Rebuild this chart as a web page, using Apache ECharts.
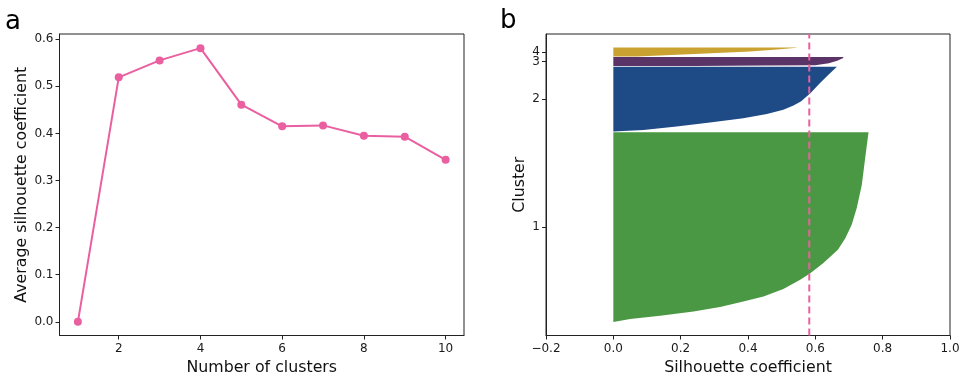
<!DOCTYPE html>
<html>
<head>
<meta charset="utf-8">
<script src="https://cdn.jsdelivr.net/npm/echarts@6/dist/echarts.min.js"></script>
<style>
html,body{margin:0;padding:0;background:#fff;}
#chart{width:962px;height:375px;}
</style>
</head>
<body>
<div id="chart"></div>
<script>
// ---- Panel a: average silhouette vs number of clusters ----
const clusterCounts = [1, 2, 3, 4, 5, 6, 7, 8, 9, 10];
const avgSilhouette = [0.0, 0.519, 0.555, 0.581, 0.461, 0.415, 0.417, 0.395, 0.393, 0.344];
const leftXTicks = [2, 4, 6, 8, 10];
const leftYTicks = [0.0, 0.1, 0.2, 0.3, 0.4, 0.5, 0.6];

// ---- Panel b: silhouette profile of the 4-cluster solution ----
const clusterLabels = ['1', '2', '3', '4'];
const clusterSizes = [190, 65, 9, 9];
// sorted silhouette profile per cluster: [fraction of cluster rows, silhouette value]
const profile1 = [[0, 0.0], [0.015, 0.05], [0.032, 0.139], [0.055, 0.238], [0.078, 0.317], [0.107, 0.386],
  [0.134, 0.446], [0.173, 0.505], [0.222, 0.555], [0.257, 0.585], [0.31, 0.624], [0.38, 0.667],
  [0.441, 0.689], [0.512, 0.708], [0.6, 0.723], [0.722, 0.738], [0.863, 0.748], [1.0, 0.758]];
const profile2 = [[0, 0.0], [0.026, 0.089], [0.077, 0.188], [0.139, 0.287], [0.207, 0.386], [0.269, 0.456],
  [0.335, 0.505], [0.4, 0.535], [0.464, 0.557], [0.594, 0.586], [0.748, 0.614], [0.876, 0.639], [1.0, 0.664]];
const profile3 = [[0, 0.24], [0.05, 0.45], [0.1, 0.6], [0.3, 0.64], [0.6, 0.665], [0.9, 0.683], [1.0, 0.683]];
const profile4 = [[0, 0.07], [0.31, 0.258], [0.54, 0.406], [0.77, 0.486], [0.97, 0.545], [1.0, 0.545]];
const meanSilhouette = 0.582;
const rightXTicks = [-0.2, 0.0, 0.2, 0.4, 0.6, 0.8, 1.0];

const profiles = [profile1, profile2, profile3, profile4];
const clusterColors = ['#4b9844', '#1e4a86', '#5a3466', '#c9a232'];
const pink = '#ea5fa0';

// layout of cluster rows on the vertical axis
const bottomPad = 13.6, gapRows = 0.6, topPad = 13.5;
const starts = [];
let cur = bottomPad;
clusterSizes.forEach((s, i) => { starts.push(cur); cur += s + (i < clusterSizes.length - 1 ? gapRows : 0); });
const rowsMax = cur + topPad;
const mids = clusterSizes.map((s, i) => starts[i] + s / 2);
// labels 3 and 4 sit very close; label 3 is drawn by a second, overlaid axis so neither is dropped
const midsMain = mids.filter((m, i) => i !== 2);
const midsExtra = [mids[2]];
const labelFor = v => { const i = mids.findIndex(m => Math.abs(m - v) < 1e-6); return i >= 0 ? clusterLabels[i] : ''; };

const font = 'DejaVu Sans';
const axisColor = '#222';
const tickLabel = { fontFamily: font, fontSize: 12, color: '#1a1a1a', hideOverlap: false };
const titleStyle = { fontFamily: font, fontSize: 15.8, color: '#111' };

const chart = echarts.init(document.getElementById('chart'), null, { renderer: 'canvas' });
chart.setOption({
  animation: false,
  backgroundColor: '#fff',
  graphic: [
    { type: 'text', left: 5, top: 9, style: { text: 'a', font: '26px "DejaVu Sans"', fill: '#000' } },
    { type: 'text', left: 500, top: 8, style: { text: 'b', font: '26px "DejaVu Sans"', fill: '#000' } }
  ],
  grid: [
    { left: 59.5, top: 34, width: 404.5, height: 301.5, outerBoundsMode: 'none', containLabel: false,
      show: true, borderColor: axisColor, borderWidth: 1, backgroundColor: 'transparent' },
    { left: 546, top: 34, width: 404, height: 301.5, outerBoundsMode: 'none', containLabel: false,
      show: true, borderColor: axisColor, borderWidth: 1, backgroundColor: 'transparent' }
  ],
  xAxis: [
    {
      gridIndex: 0, type: 'value', min: 0.55, max: 10.45,
      name: 'Number of clusters', nameLocation: 'middle', nameGap: 24,
      nameTextStyle: titleStyle,
      axisLine: { show: true, onZero: false, lineStyle: { color: axisColor } },
      axisTick: { show: true, length: 4, lineStyle: { color: axisColor }, customValues: leftXTicks },
      axisLabel: Object.assign({ margin: 7, customValues: leftXTicks, formatter: v => String(v) }, tickLabel),
      splitLine: { show: false }
    },
    {
      gridIndex: 1, type: 'value', min: -0.2, max: 1.0, interval: 0.2,
      name: 'Silhouette coefficient', nameLocation: 'middle', nameGap: 24,
      nameTextStyle: titleStyle,
      axisLine: { show: true, onZero: false, lineStyle: { color: axisColor } },
      axisTick: { show: true, length: 4, lineStyle: { color: axisColor }, customValues: rightXTicks },
      axisLabel: Object.assign({ margin: 7, customValues: rightXTicks,
        formatter: v => (v < 0 ? '\u2212' + Math.abs(v).toFixed(1) : v.toFixed(1)) }, tickLabel),
      splitLine: { show: false }
    }
  ],
  yAxis: [
    {
      gridIndex: 0, type: 'value', min: -0.029, max: 0.611,
      name: 'Average silhouette coefficient', nameLocation: 'middle', nameGap: 30,
      nameTextStyle: titleStyle,
      axisLine: { show: true, onZero: false, lineStyle: { color: axisColor } },
      axisTick: { show: true, length: 4, lineStyle: { color: axisColor }, customValues: leftYTicks },
      axisLabel: Object.assign({ margin: 6, customValues: leftYTicks, formatter: v => v.toFixed(1) }, tickLabel),
      splitLine: { show: false }
    },
    {
      gridIndex: 1, type: 'value', min: 0, max: rowsMax, position: 'left',
      name: 'Cluster', nameLocation: 'middle', nameGap: 18,
      nameTextStyle: titleStyle,
      axisLine: { show: true, onZero: false, lineStyle: { color: axisColor } },
      axisTick: { show: true, length: 4, lineStyle: { color: axisColor }, customValues: mids },
      axisLabel: Object.assign({ margin: 6, customValues: midsMain, showMinLabel: true, showMaxLabel: true,
        formatter: labelFor }, tickLabel),
      splitLine: { show: false }
    },
    {
      gridIndex: 1, type: 'value', min: 0, max: rowsMax, position: 'left',
      axisLine: { show: false },
      axisTick: { show: false },
      axisLabel: Object.assign({ margin: 6, customValues: midsExtra, showMinLabel: true, showMaxLabel: true,
        formatter: labelFor }, tickLabel),
      splitLine: { show: false }
    }
  ],
  series: [
    {
      type: 'line', xAxisIndex: 0, yAxisIndex: 0,
      data: clusterCounts.map((k, i) => [k, avgSilhouette[i]]),
      symbol: 'circle', symbolSize: 8,
      lineStyle: { color: pink, width: 2 },
      itemStyle: { color: pink }
    },
    {
      type: 'custom', xAxisIndex: 1, yAxisIndex: 1,
      data: clusterLabels.map((c, i) => [i]),
      renderItem: function (params, api) {
        const i = api.value(0);
        const s = starts[i], n = clusterSizes[i];
        const pts = [api.coord([0, s])];
        profiles[i].forEach(p => pts.push(api.coord([p[1], s + p[0] * n])));
        pts.push(api.coord([0, s + n]));
        return { type: 'polygon', shape: { points: pts }, style: { fill: clusterColors[i], stroke: null } };
      }
    },
    {
      type: 'line', xAxisIndex: 1, yAxisIndex: 1,
      data: [[meanSilhouette, 0], [meanSilhouette, rowsMax]],
      symbol: 'none',
      lineStyle: { color: pink, width: 2, type: [7, 4] }
    }
  ]
});
</script>
</body>
</html>
